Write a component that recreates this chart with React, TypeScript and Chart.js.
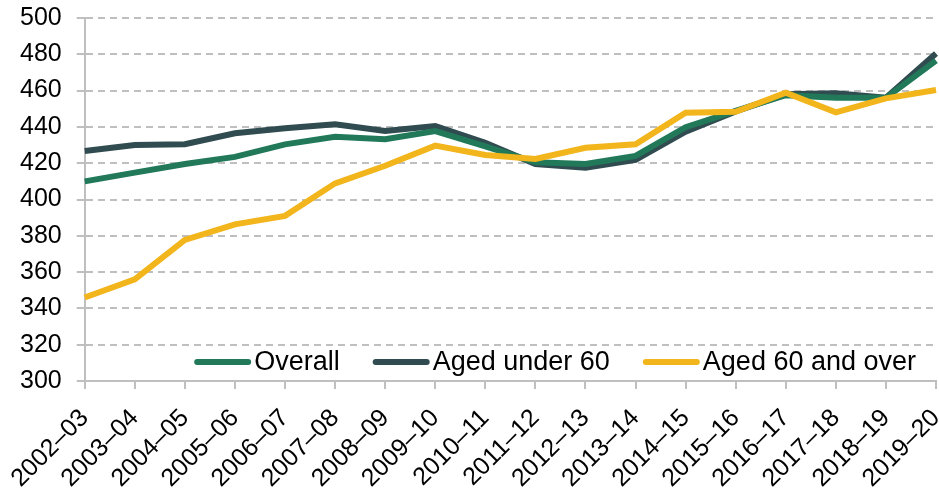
import React, { useEffect, useRef } from "react";
import { Chart, registerables } from "chart.js";

Chart.register(...registerables);

const categories = [
  "2002–03", "2003–04", "2004–05", "2005–06", "2006–07", "2007–08",
  "2008–09", "2009–10", "2010–11", "2011–12", "2012–13", "2013–14",
  "2014–15", "2015–16", "2016–17", "2017–18", "2018–19", "2019–20",
];

const overall = [
  410, 414.8, 419.6, 423.5, 430.4, 434.6, 433.2, 437.7, 429.3, 420.5,
  419.6, 424, 439.8, 448.8, 457.5, 456, 456, 476.5,
];

const agedUnder60 = [
  426.7, 430, 430.5, 436.5, 439.2, 441.4, 437.7, 440.5, 431.2, 419.6,
  417.5, 421.8, 437.4, 448.5, 458, 458.5, 456, 480.5,
];

const aged60AndOver = [
  346, 356, 377.7, 386.3, 391, 408.9, 418.6, 429.7, 424.5, 422.3,
  428.5, 430.4, 447.8, 448.3, 458.9, 448, 455.7, 460.3,
];

const seriesLabels = ["Overall", "Aged under 60", "Aged 60 and over"];
const seriesColors = ["#21795a", "#314c50", "#f2b51b"];

const FONT = "'Liberation Sans', Arial, sans-serif";

const insideLegend = {
  id: "insideLegend",
  afterDraw(chart: any) {
    const { ctx, chartArea } = chart;
    const fontSize = 27;
    const lineLen = 57;
    const gapLineText = 3;
    const itemGap = 33;
    ctx.save();
    ctx.font = `${fontSize}px ${FONT}`;
    const items = chart.data.datasets.map((ds: any) => ({
      label: ds.label,
      color: ds.borderColor,
      w: ctx.measureText(ds.label).width,
    }));
    const total =
      items.reduce((s: number, it: any) => s + lineLen + gapLineText + it.w, 0) +
      itemGap * (items.length - 1);
    let x = chartArea.right - 20 - total;
    const y = chartArea.bottom - 19;
    ctx.textBaseline = "middle";
    ctx.textAlign = "left";
    for (const it of items) {
      ctx.strokeStyle = it.color;
      ctx.lineWidth = 6;
      ctx.lineCap = "round";
      ctx.beginPath();
      ctx.moveTo(x + 3, y);
      ctx.lineTo(x + lineLen - 3, y);
      ctx.stroke();
      x += lineLen + gapLineText;
      ctx.fillStyle = "#000";
      ctx.fillText(it.label, x, y + 1);
      x += it.w + itemGap;
    }
    ctx.restore();
  },
};

export default function App() {
  const ref = useRef<HTMLCanvasElement | null>(null);

  useEffect(() => {
    if (!ref.current) return;
    const data = [overall, agedUnder60, aged60AndOver];
    const orders = [1, 2, 0];
    const chart = new Chart(ref.current, {
      type: "line",
      data: {
        labels: categories,
        datasets: data.map((d, i) => ({
          label: seriesLabels[i],
          data: d,
          borderColor: seriesColors[i],
          backgroundColor: seriesColors[i],
          borderWidth: 6,
          pointRadius: 0,
          tension: 0,
          fill: false,
          order: orders[i],
        })),
      },
      options: {
        animation: false,
        responsive: true,
        maintainAspectRatio: false,
        layout: { padding: { left: 5, right: 0, top: 0, bottom: 0 } },
        plugins: {
          legend: { display: false },
          tooltip: { enabled: false },
        },
        scales: {
          x: {
            offset: false,
            grid: {
              display: true,
              drawOnChartArea: false,
              drawTicks: true,
              tickLength: 8,
              color: "#bfbfbf",
              lineWidth: 2,
            },
            border: { display: true, color: "#bfbfbf", width: 2 },
            ticks: {
              autoSkip: false,
              maxRotation: 45,
              minRotation: 45,
              padding: 25,
              color: "#000",
              font: { family: FONT, size: 25, lineHeight: 0.01 },
            },
            afterFit: (scale: any) => {
              scale.paddingLeft = 0;
              scale.paddingRight = 3;
              scale.height = 110;
            },
          },
          y: {
            min: 300,
            max: 500,
            grid: {
              color: "#bfbfbf",
              lineWidth: 2,
              tickLength: 8,
              drawTicks: true,
              tickBorderDash: [],
            },
            border: { display: true, color: "#bfbfbf", width: 2, dash: [7, 5] },
            ticks: {
              stepSize: 20,
              padding: 15,
              color: "#000",
              font: { family: FONT, size: 25 },
            },
            afterFit: (scale: any) => {
              scale.paddingTop = 18;
              scale.paddingBottom = 0;
            },
          },
        },
      },
      plugins: [insideLegend],
    });
    return () => chart.destroy();
  }, []);

  return (
    <div style={{ position: "fixed", left: 0, top: 0, width: 939, height: 491 }}>
      <canvas ref={ref} />
    </div>
  );
}
